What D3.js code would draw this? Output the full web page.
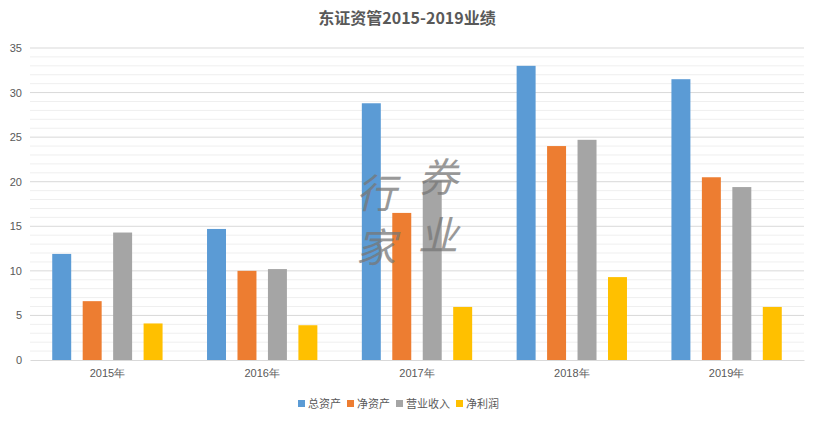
<!DOCTYPE html>
<html><head><meta charset="utf-8">
<script src="https://cdn.jsdelivr.net/npm/d3@7"></script>
<style>body{margin:0;background:#fff;font-family:"Noto Sans CJK SC","Noto Sans",sans-serif;}</style>
</head><body><div id="chart"></div>
<script>
// chart data
const years = ['2015年', '2016年', '2017年', '2018年', '2019年'];
const seriesNames = ['总资产', '净资产', '营业收入', '净利润'];
const totalAssets = [11.9, 14.7, 28.8, 33.0, 31.5];
const netAssets = [6.6, 10.0, 16.5, 24.0, 20.5];
const revenue = [14.3, 10.2, 20.1, 24.7, 19.4];
const netProfit = [4.1, 3.9, 5.95, 9.3, 5.95];
const yTicks = [0, 5, 10, 15, 20, 25, 30, 35];
const colors = ['#5b9bd5', '#ed7d31', '#a5a5a5', '#ffc000'];

const w = 814, h = 423;
const m = {top: 48, right: 10, bottom: 63, left: 30};
const allSeries = [totalAssets, netAssets, revenue, netProfit];

const svg = d3.select('#chart').append('svg').attr('width', w).attr('height', h);

svg.append('text').attr('x', w / 2).attr('y', 24).attr('text-anchor', 'middle')
	.style('font-size', '16px').style('font-weight', 'bold').attr('fill', '#595959')
	.text('东证资管2015-2019业绩');

const x = d3.scaleBand().domain(years).range([m.left, w - m.right]);
const xs = d3.scaleBand().domain(seriesNames).range([0, x.bandwidth()]).paddingInner(0.377).paddingOuter(0.73);
const y = d3.scaleLinear().domain([0, 35]).range([h - m.bottom, m.top]);

// grid: minor every 1, major every 5
svg.append('g').selectAll('line').data(d3.range(1, 36)).enter().append('line')
	.attr('x1', m.left).attr('x2', w - m.right)
	.attr('y1', d => y(d)).attr('y2', d => y(d))
	.attr('stroke', d => d % 5 === 0 ? '#d9d9d9' : '#efefef').attr('stroke-width', 1);

const yAxis = svg.append('g').attr('transform', 'translate(' + m.left + ',0)')
	.call(d3.axisLeft(y).tickValues(yTicks).tickSize(0).tickPadding(8));
yAxis.select('.domain').remove();
yAxis.selectAll('text').style('font-size', '11px').attr('fill', '#595959');

const groups = svg.append('g').selectAll('g').data(years).enter().append('g')
	.attr('transform', d => 'translate(' + x(d) + ',0)');
groups.selectAll('rect').data((d, i) => seriesNames.map((s, j) => ({s: s, v: allSeries[j][i], j: j})))
	.enter().append('rect')
	.attr('x', d => xs(d.s)).attr('width', xs.bandwidth())
	.attr('y', d => y(d.v)).attr('height', d => y(0) - y(d.v))
	.attr('fill', d => colors[d.j]);

const xAxis = svg.append('g').attr('transform', 'translate(0,' + y(0) + ')')
	.call(d3.axisBottom(x).tickSize(0).tickPadding(9));
xAxis.select('.domain').attr('stroke', '#d9d9d9');
xAxis.selectAll('text').style('font-size', '11px').attr('fill', '#595959');

// watermark
const wm = svg.append('g').attr('fill', '#777').attr('opacity', 0.75)
	.style('font-size', '40px').style('font-family', '"Noto Sans CJK SC"').style('font-style', 'italic');
wm.append('text').attr('x', 356).attr('y', 208).text('行');
wm.append('text').attr('x', 356).attr('y', 262).text('家');
wm.append('text').attr('x', 418).attr('y', 192).text('券');
wm.append('text').attr('x', 418).attr('y', 250).text('业');

// legend
const legend = svg.append('g').attr('transform', 'translate(298,404)');
let off = 0;
seriesNames.forEach((s, i) => {
	const g = legend.append('g').attr('transform', 'translate(' + off + ',0)');
	g.append('rect').attr('x', 0).attr('y', -4).attr('width', 7).attr('height', 7).attr('fill', colors[i]);
	g.append('text').attr('x', 10).attr('y', 4).style('font-size', '11px').attr('fill', '#595959').text(s);
	off += 10 + s.length * 11 + 6;
});
</script></body></html>
